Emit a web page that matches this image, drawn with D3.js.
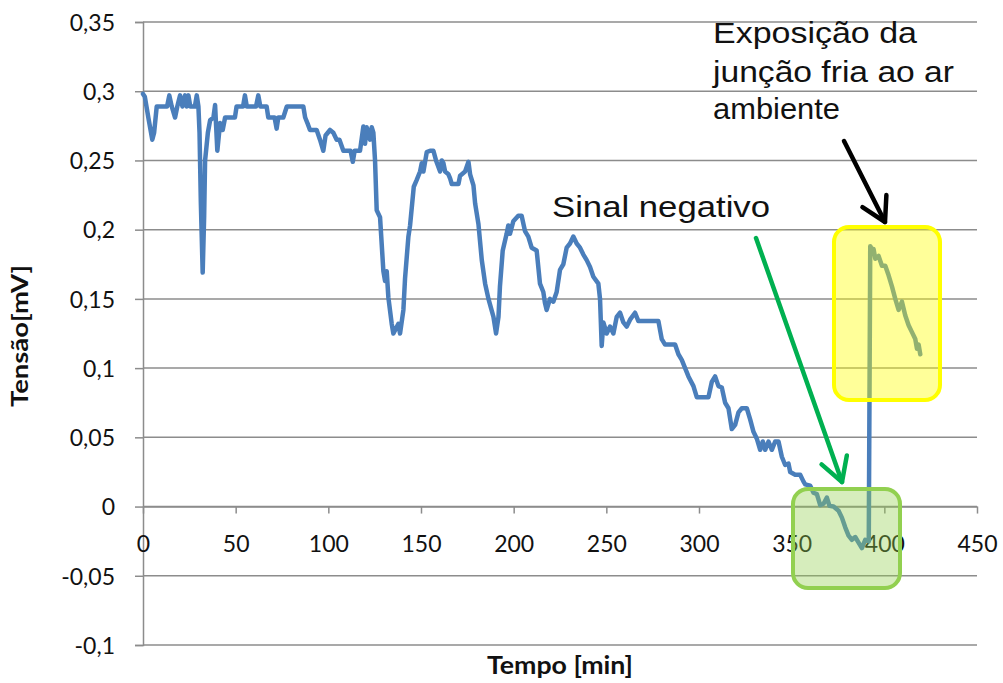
<!DOCTYPE html>
<html>
<head>
<meta charset="utf-8">
<script src="https://cdn.jsdelivr.net/npm/d3@7"></script>
<style>
  html, body { margin: 0; padding: 0; background: #fff; }
  svg { display: block; }
</style>
</head>
<body>
<svg id="chart" width="1003" height="683"></svg>
<script>
// Thermocouple reading over time (minutes, mV)
const tempo = [
  0, 1, 3, 5, 6, 7.4, 13, 14.2, 15.5, 17.3, 18.5, 20, 21.3, 22.7, 23.6, 24.5, 25.5, 28, 29, 29.9,
  30.5, 31.2, 32.2, 33, 33.5, 35, 36.2, 38, 38.9, 40.1, 41.6, 43, 44.3, 49.6, 50.5, 54, 55, 56, 61, 62.2,
  63.3, 66.7, 67.6, 71, 72.1, 73, 75.7, 77.6, 86.5, 87.5, 89, 90.1, 93.7, 95.5, 97.3, 98.5, 100.9, 102.7, 104.5, 106,
  108.1, 112, 113.2, 114.2, 117.1, 118.9, 119.8, 120.7, 122.5, 123.4, 124.3, 125.2, 126.1, 127.9, 129.7, 130.6, 131.5, 132.4, 134.2, 135.1,
  137.8, 138.7, 140.5, 141.4, 143.2, 144.1, 146.1, 147.7, 149.5, 150.4, 151.3, 153.1, 154.9, 156.7, 158.1, 160.3, 161.2, 162.1, 163, 164.8,
  165.7, 166.6, 170.2, 171.1, 173.8, 175.6, 176.5, 178.3, 179.2, 181, 182.8, 184.6, 186.4, 189.1, 190.5, 191.8, 192.6, 194.1, 196.2, 197.1,
  198, 199.8, 202.5, 204.3, 206.1, 207.9, 209.7, 212.4, 214.2, 216, 216.9, 217.8, 219.6, 221.4, 223.2, 225, 226.8, 228.6, 230.4, 232.2,
  234, 235.8, 237.6, 239.4, 241.2, 243, 245.7, 246.6, 247.5, 248.4, 250.2, 252, 253.8, 255.6, 257.4, 259.2, 261, 262.8, 265.5, 267.3,
  278.1, 279.9, 281.7, 287.1, 288.9, 290.7, 292.5, 294.3, 297, 298.8, 305.1, 306.9, 308.7, 310.5, 312.3, 314.1, 315.9, 317.7, 319.5, 321.3,
  323.1, 325.8, 327.6, 329.4, 331.2, 333, 334.4, 335.7, 337.5, 339.3, 341.1, 342.9, 344.7, 346.5, 348.3, 349.2, 351.9, 354.6, 356.4, 357.3,
  360, 361.8, 363.6, 365.4, 367.2, 369, 370.4, 372.6, 375.3, 377.1, 378.9, 380.7, 382.5, 384.3, 386.1, 387.9, 389.7, 391.6, 392.4, 393.3,
  394.2, 395.1, 396.9, 398.7, 400.5, 402.3, 404.1, 405.9, 407.7, 409.5, 411.3, 413.1, 414.9, 416.7, 417.6, 418.5, 419.4
];
const tensao = [
  0.298, 0.296, 0.280, 0.265, 0.270, 0.289, 0.289, 0.297, 0.289, 0.281, 0.289, 0.297, 0.289, 0.297, 0.289, 0.297, 0.289, 0.289, 0.297, 0.289,
  0.270, 0.220, 0.169, 0.210, 0.250, 0.270, 0.279, 0.281, 0.290, 0.257, 0.277, 0.272, 0.281, 0.281, 0.289, 0.289, 0.297, 0.289, 0.289, 0.297,
  0.289, 0.289, 0.281, 0.281, 0.273, 0.281, 0.281, 0.289, 0.289, 0.281, 0.276, 0.272, 0.272, 0.265, 0.257, 0.268, 0.272, 0.270, 0.265, 0.265,
  0.257, 0.257, 0.249, 0.257, 0.257, 0.2745, 0.262, 0.274, 0.265, 0.274, 0.270, 0.250, 0.214, 0.209, 0.170, 0.163, 0.170, 0.151, 0.132, 0.125,
  0.132, 0.125, 0.142, 0.165, 0.195, 0.203, 0.231, 0.236, 0.242, 0.248, 0.242, 0.256, 0.257, 0.257, 0.250, 0.242, 0.250, 0.248, 0.242, 0.240,
  0.237, 0.233, 0.233, 0.239, 0.242, 0.249, 0.240, 0.232, 0.219, 0.204, 0.178, 0.161, 0.150, 0.137, 0.125, 0.137, 0.159, 0.185, 0.197, 0.203,
  0.197, 0.206, 0.210, 0.210, 0.199, 0.195, 0.187, 0.185, 0.161, 0.155, 0.147, 0.142, 0.150, 0.148, 0.155, 0.171, 0.175, 0.187, 0.190, 0.195,
  0.190, 0.187, 0.182, 0.178, 0.173, 0.166, 0.161, 0.150, 0.116, 0.133, 0.125, 0.130, 0.125, 0.137, 0.140, 0.133, 0.130, 0.135, 0.140, 0.134,
  0.134, 0.121, 0.117, 0.117, 0.110, 0.106, 0.100, 0.094, 0.087, 0.079, 0.079, 0.090, 0.094, 0.087, 0.086, 0.075, 0.071, 0.056, 0.059, 0.068,
  0.071, 0.071, 0.063, 0.054, 0.049, 0.041, 0.047, 0.041, 0.047, 0.041, 0.047, 0.047, 0.036, 0.030, 0.031, 0.025, 0.023, 0.023, 0.018, 0.016,
  0.015, 0.010, 0.009, 0.001, 0.002, 0.0065, 0.0005, 0.000, -0.003, -0.008, -0.015, -0.021, -0.024, -0.022, -0.026, -0.030, -0.024, -0.025, 0.188, 0.186,
  0.186, 0.179, 0.181, 0.174, 0.174, 0.167, 0.159, 0.150, 0.142, 0.148, 0.138, 0.131, 0.126, 0.121, 0.114, 0.117, 0.110
];

const xTickValues = [0, 50, 100, 150, 200, 250, 300, 350, 400, 450];
const yTickValues = [-0.1, -0.05, 0, 0.05, 0.1, 0.15, 0.2, 0.25, 0.3, 0.35];

const xTitle = "Tempo [min]";
const yTitle = "Tensão[mV]";
const annotTop = ["Exposição da", "junção fria ao ar", "ambiente"];
const annotNeg = "Sinal negativo";

const svg = d3.select("#chart");
const plotLeft = 143, plotRight = 977, plotTop = 22, plotBottom = 645;

const x = d3.scaleLinear().domain([0, 450]).range([plotLeft, plotRight]);
const y = d3.scaleLinear().domain([-0.1, 0.35]).range([plotBottom, plotTop]);

const pt = d3.formatLocale({ decimal: ",", thousands: ".", grouping: [3], currency: ["", ""], minus: "-" });
const fmt = pt.format("~g");

const gridColor = "#8c8c8c";
const tickFont = "Lato, 'Open Sans', sans-serif";

// horizontal grid
svg.append("g")
  .selectAll("line")
  .data(yTickValues)
  .join("line")
  .attr("x1", plotLeft).attr("x2", plotRight)
  .attr("y1", d => y(d)).attr("y2", d => y(d))
  .attr("stroke", gridColor).attr("stroke-width", 1.5);

// y axis
const yAxis = svg.append("g")
  .attr("transform", `translate(${plotLeft},0)`)
  .call(d3.axisLeft(y).tickValues(yTickValues).tickFormat(fmt).tickSize(8).tickPadding(20));
yAxis.select(".domain").attr("stroke", gridColor).attr("stroke-width", 1.5);
yAxis.selectAll(".tick line").attr("stroke", gridColor).attr("stroke-width", 1.5);
yAxis.selectAll(".tick text")
  .attr("font-family", tickFont).attr("font-size", 23).attr("fill", "#111").attr("dy", "0.36em");

// x axis sitting on the zero line
const xAxis = svg.append("g")
  .attr("transform", `translate(0,${y(0)})`)
  .call(d3.axisBottom(x).tickValues(xTickValues).tickFormat(fmt).tickSize(7).tickSizeOuter(0).tickPadding(29));
xAxis.select(".domain").attr("stroke", gridColor).attr("stroke-width", 1.5);
xAxis.selectAll(".tick line").attr("stroke", gridColor).attr("stroke-width", 1.5);
xAxis.selectAll(".tick text")
  .attr("font-family", tickFont).attr("font-size", 23).attr("fill", "#111").attr("dy", "0.4em");

// axis titles
svg.append("text")
  .attr("x", 560).attr("y", 674)
  .attr("text-anchor", "middle")
  .attr("font-family", tickFont).attr("font-weight", "bold").attr("font-size", 24)
  .attr("textLength", 146).attr("lengthAdjust", "spacingAndGlyphs")
  .attr("fill", "#111")
  .text(xTitle);

svg.append("text")
  .attr("transform", "translate(28,336) rotate(-90)")
  .attr("text-anchor", "middle")
  .attr("font-family", tickFont).attr("font-weight", "bold").attr("font-size", 22)
  .attr("textLength", 142).attr("lengthAdjust", "spacingAndGlyphs")
  .attr("fill", "#111")
  .text(yTitle);

// series
const data = tempo.map((t, i) => [t, tensao[i]]);
svg.append("path")
  .datum(data)
  .attr("fill", "none")
  .attr("stroke", "#4a7ebb")
  .attr("stroke-width", 4.5)
  .attr("stroke-linejoin", "round")
  .attr("stroke-linecap", "round")
  .attr("d", d3.line().x(d => x(d[0])).y(d => y(d[1])));

// highlight boxes
svg.append("rect")
  .attr("x", 793).attr("y", 489).attr("width", 107).attr("height", 99)
  .attr("rx", 15).attr("ry", 15)
  .attr("fill", "rgba(146,208,80,0.38)")
  .attr("stroke", "#92d050").attr("stroke-width", 4);

svg.append("rect")
  .attr("x", 834).attr("y", 227).attr("width", 106).attr("height", 173)
  .attr("rx", 15).attr("ry", 15)
  .attr("fill", "rgba(255,255,0,0.4)")
  .attr("stroke", "#ffff00").attr("stroke-width", 4);

// arrows
function arrow(x1, y1, x2, y2, color) {
  const g = svg.append("g").attr("stroke", color).attr("stroke-width", 4.5)
    .attr("fill", "none").attr("stroke-linecap", "round").attr("stroke-linejoin", "round");
  g.append("line").attr("x1", x1).attr("y1", y1).attr("x2", x2).attr("y2", y2);
  const a = Math.atan2(y2 - y1, x2 - x1);
  const len = 27, spread = 0.52;
  const p1 = [x2 - len * Math.cos(a - spread), y2 - len * Math.sin(a - spread)];
  const p2 = [x2 - len * Math.cos(a + spread), y2 - len * Math.sin(a + spread)];
  g.append("path").attr("d", `M${p1[0]},${p1[1]}L${x2},${y2}L${p2[0]},${p2[1]}`);
}
arrow(756, 238, 842, 482, "#00b050");
arrow(844, 141, 885, 222, "#000000");

// annotation texts
const annotFont = "'Liberation Sans', Arial, sans-serif";
const topLines = [[43, 204], [82, 241], [119, 127]];
annotTop.forEach((s, i) => {
  svg.append("text")
    .attr("x", 713).attr("y", topLines[i][0])
    .attr("font-family", annotFont).attr("font-size", 30)
    .attr("textLength", topLines[i][1]).attr("lengthAdjust", "spacingAndGlyphs")
    .attr("fill", "#111")
    .text(s);
});
svg.append("text")
  .attr("x", 552).attr("y", 217)
  .attr("font-family", annotFont).attr("font-size", 30)
  .attr("textLength", 218).attr("lengthAdjust", "spacingAndGlyphs")
  .attr("fill", "#111")
  .text(annotNeg);
</script>
</body>
</html>
